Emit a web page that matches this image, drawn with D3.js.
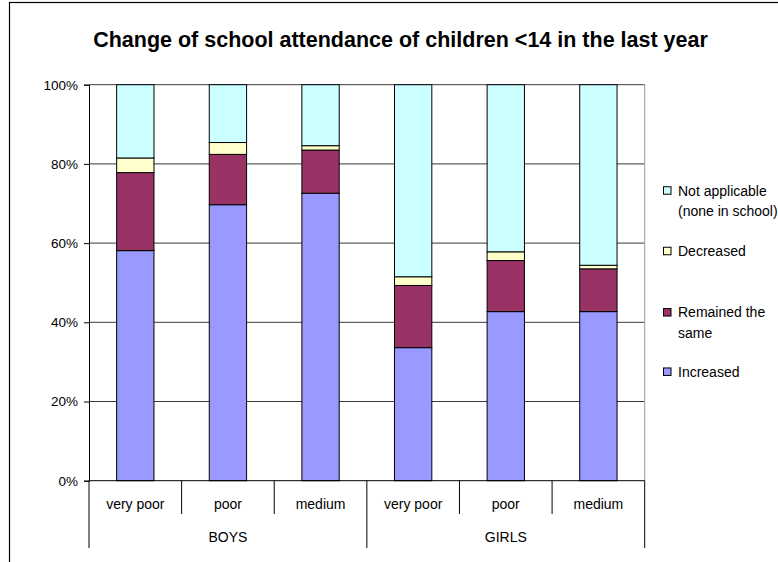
<!DOCTYPE html>
<html>
<head>
<meta charset="utf-8">
<script src="https://cdn.jsdelivr.net/npm/d3@7"></script>
<style>
  html, body { margin: 0; padding: 0; background: #fff; }
  svg { display: block; font-family: "Liberation Sans", Arial, sans-serif; }
</style>
</head>
<body>
<svg id="chart" width="778" height="562"></svg>
<script>
// School attendance change of children under 14, by sex and wealth level (%)
const groups = ["BOYS", "GIRLS"];
const levels = ["very poor", "poor", "medium"];
const increased     = [58.1, 69.7, 72.6, 33.6, 42.7, 42.7];
const remained      = [19.7, 12.7, 10.9, 15.7, 12.9, 10.8];
const decreased     = [3.7, 3.0, 1.1, 2.2, 2.2, 0.9];
const notApplicable = [18.5, 14.6, 15.4, 48.5, 42.2, 45.6];
const yTicks = [0, 20, 40, 60, 80, 100];

const seriesKeys = ["increased", "remained", "decreased", "notApplicable"];
const seriesNames = {
  increased: ["Increased"],
  remained: ["Remained the", "same"],
  decreased: ["Decreased"],
  notApplicable: ["Not applicable", "(none in school)"]
};
const colors = {
  increased: "#9999FF",
  remained: "#993366",
  decreased: "#FFFFCC",
  notApplicable: "#CCFFFF"
};

const rows = [];
groups.forEach((g, gi) => levels.forEach((l, li) => {
  const i = gi * levels.length + li;
  rows.push({
    id: g + "|" + l, group: g, level: l,
    increased: increased[i], remained: remained[i],
    decreased: decreased[i], notApplicable: notApplicable[i]
  });
}));

const svg = d3.select("#chart");
const plot = { left: 89, right: 644.7, top: 84.7, bottom: 480.7 };

// outer chart frame
svg.append("rect")
  .attr("x", 9.5).attr("y", 2.5)
  .attr("width", 800).attr("height", 600)
  .attr("fill", "#fff").attr("stroke", "#000").attr("stroke-width", 1.2);

svg.append("text")
  .attr("x", 400.5).attr("y", 47)
  .attr("text-anchor", "middle")
  .attr("font-size", 21.5).attr("font-weight", "bold")
  .text("Change of school attendance of children <14 in the last year");

const pInner = 0.597;
const x = d3.scaleBand()
  .domain(rows.map(d => d.id))
  .range([plot.left, plot.right])
  .paddingInner(pInner).paddingOuter(pInner / 2);
const y = d3.scaleLinear().domain([0, 100]).range([plot.bottom, plot.top]);

// gridlines
svg.append("g")
  .selectAll("line").data(yTicks.filter(t => t > 0)).join("line")
  .attr("x1", plot.left).attr("x2", plot.right)
  .attr("y1", d => y(d)).attr("y2", d => y(d))
  .attr("stroke", "#3a3a3a").attr("stroke-width", 1);

// right border of the plot area
svg.append("line")
  .attr("x1", plot.right).attr("x2", plot.right)
  .attr("y1", plot.top).attr("y2", plot.bottom)
  .attr("stroke", "#9a9a9a").attr("stroke-width", 1);

// stacked bars
const stack = d3.stack().keys(seriesKeys);
const layers = stack(rows);
svg.append("g")
  .selectAll("g").data(layers).join("g")
  .attr("fill", d => colors[d.key])
  .selectAll("rect").data(d => d).join("rect")
  .attr("x", d => x(d.data.id))
  .attr("width", x.bandwidth())
  .attr("y", d => y(d[1]))
  .attr("height", d => y(d[0]) - y(d[1]))
  .attr("stroke", "#000").attr("stroke-width", 1);

// y axis
const yAxis = d3.axisLeft(y).tickValues(yTicks)
  .tickFormat(d => d + "%").tickSize(5).tickPadding(6);
const ya = svg.append("g").attr("transform", `translate(${plot.left},0)`).call(yAxis);
ya.select(".domain").attr("stroke", "#000");
ya.selectAll(".tick line").attr("stroke", "#000");
ya.selectAll(".tick text").attr("font-size", 13.5).attr("fill", "#000")
  .attr("font-family", "Liberation Sans, Arial, sans-serif");

// x axis line
svg.append("line")
  .attr("x1", plot.left).attr("x2", plot.right)
  .attr("y1", plot.bottom).attr("y2", plot.bottom)
  .attr("stroke", "#000").attr("stroke-width", 1);

// category separators and labels
const step = x.step();
const bounds = d3.range(rows.length + 1).map(i => plot.left + i * step);
svg.append("g").selectAll("line").data(bounds).join("line")
  .attr("x1", d => d).attr("x2", d => d)
  .attr("y1", plot.bottom)
  .attr("y2", (d, i) => i % levels.length === 0 ? 548 : 514)
  .attr("stroke", "#000").attr("stroke-width", 1);

svg.append("g").selectAll("text").data(rows).join("text")
  .attr("x", d => x(d.id) + x.bandwidth() / 2)
  .attr("y", 508.5)
  .attr("text-anchor", "middle")
  .attr("font-size", 14)
  .text(d => d.level);

svg.append("g").selectAll("text").data(groups).join("text")
  .attr("x", (d, i) => plot.left + (i + 0.5) * levels.length * step)
  .attr("y", 542)
  .attr("text-anchor", "middle")
  .attr("font-size", 14)
  .text(d => d);

// legend (top entry is the top of the stack)
const legendRows = [
  { key: "notApplicable", cy: 190.5 },
  { key: "decreased", cy: 251 },
  { key: "remained", cy: 312.3 },
  { key: "increased", cy: 371.7 }
];
const lg = svg.append("g").selectAll("g").data(legendRows).join("g");
lg.append("rect")
  .attr("x", 663.5).attr("y", d => d.cy - 3.75)
  .attr("width", 7.5).attr("height", 7.5)
  .attr("fill", d => colors[d.key])
  .attr("stroke", "#000").attr("stroke-width", 1);
lg.append("text")
  .attr("x", 678).attr("y", d => d.cy + 5)
  .attr("font-size", 14)
  .selectAll("tspan").data(d => seriesNames[d.key]).join("tspan")
  .attr("x", 678).attr("dy", (d, i) => i === 0 ? 0 : 20.7)
  .text(d => d);
</script>
</body>
</html>
